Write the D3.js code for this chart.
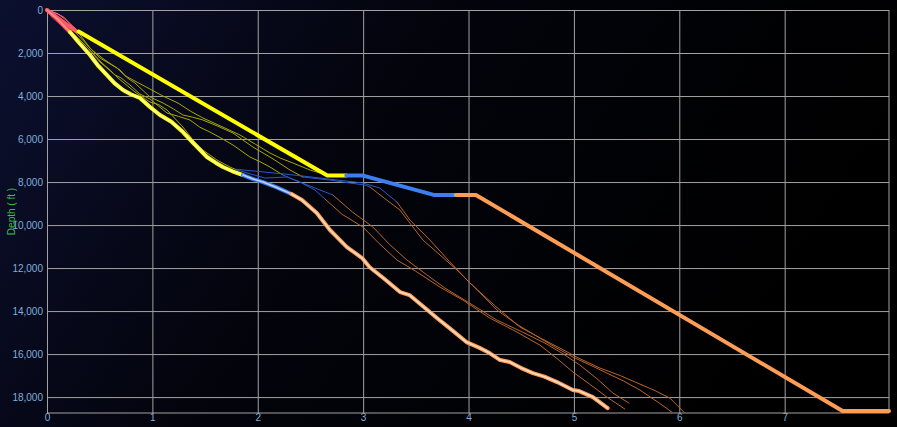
<!DOCTYPE html>
<html><head><meta charset="utf-8">
<script src="https://cdn.jsdelivr.net/npm/d3@7"></script>
<style>html,body{margin:0;padding:0;background:#000;}svg{display:block;}</style>
</head><body>
<svg id="chart" width="897" height="427"></svg>
<script>
// ---------- DATA (x: time units, y: depth ft) ----------
const xTicks = [0,1,2,3,4,5,6,7];
const yTicks = [0,2000,4000,6000,8000,10000,12000,14000,16000,18000];
const sectionColors = ["#ff5a5f","#ffff00","#3d7ff0","#ff9d55"];
const thinColors   = ["#c8323c","#a8a800","#2a58c8","#b8652a"];

// Plan line by section
const planRed    = [[0,0],[0.28,1000]];
const planYellow = [[0.30,1000],[2.66,7700],[2.84,7700]];
const planBlue   = [[2.84,7700],[3.0,7700],[3.67,8600],[3.88,8600]];
const planOrange = [[3.88,8600],[4.07,8600],[7.55,18650],[7.99,18650]];

// Actual (current well) by section
const mainRed    = [[0,0],[0.1,420],[0.218,1023]];
const mainYellow = [[0.218,1023],[0.30,1500],[0.408,2093],[0.48,2560],[0.569,3023],[0.64,3400],[0.721,3721],[0.80,3930],[0.882,4093],[0.93,4300],[0.977,4512],[1.072,4884],[1.18,5200],[1.29,5674],[1.40,6250],[1.518,6837],[1.60,7100],[1.67,7302],[1.76,7500],[1.86,7674]];
const mainBlue   = [[1.86,7674],[1.95,7850],[2.05,8000],[2.18,8250],[2.32,8558]];
const mainOrange = [[2.32,8558],[2.42,8837],[2.56,9442],[2.685,10232],[2.846,11023],[2.99,11535],[3.06,11953],[3.20,12500],[3.35,13116],[3.44,13256],[3.61,13953],[3.72,14400],[3.82,14791],[3.98,15442],[4.10,15700],[4.20,15953],[4.30,16279],[4.39,16372],[4.50,16650],[4.61,16884],[4.72,17050],[4.84,17302],[4.99,17674],[5.05,17720],[5.18,18000],[5.32,18512]];

// Offset wells: surface section
const offRed1 = [[0,0],[0.076,233],[0.142,558],[0.199,744],[0.237,977]];
const offRed2 = [[0,0],[0.104,186],[0.18,465],[0.266,837],[0.294,1023]];
const offRed3 = [[0,0],[0.05,370],[0.12,650],[0.18,930],[0.22,1020]];
const offRed4 = [[0,0],[0.085,140],[0.16,330],[0.22,650],[0.275,980]];
// intermediate section
const offYellow1 = [[0.237,1023],[0.389,1767],[0.503,2419],[0.645,3023],[0.70,3150],[0.787,3488],[0.88,3900],[0.977,4139],[1.139,4791],[1.25,4950],[1.357,5116],[1.45,5450],[1.546,5674],[1.65,5950],[1.765,6279],[1.926,6837],[2.02,7050],[2.116,7302],[2.239,7674]];
const offYellow2 = [[0.237,1023],[0.408,1860],[0.522,2465],[0.60,2800],[0.674,3163],[0.835,3814],[0.977,4279],[1.06,4400],[1.139,4651],[1.29,5442],[1.385,6046],[1.48,6512],[1.613,6977],[1.736,7302],[1.803,7442]];
const offYellow3 = [[0.266,1023],[0.427,1860],[0.55,2326],[0.693,2791],[0.76,3150],[0.835,3395],[0.977,4046],[1.101,4325],[1.20,4600],[1.29,4884],[1.38,4980],[1.48,5116],[1.62,5400],[1.765,5721],[1.954,6372],[2.116,6837],[2.20,7100],[2.306,7442],[2.429,7767]];
const offYellow4 = [[0.294,1023],[0.408,1767],[0.503,2233],[0.664,2698],[0.74,3050],[0.816,3256],[0.977,3674],[1.10,4000],[1.243,4325],[1.36,4700],[1.48,5023],[1.65,5400],[1.831,5814],[1.98,6250],[2.116,6651],[2.22,6900],[2.334,7116],[2.50,7450],[2.657,7674]];
// liner section
const offBlue1 = [[2.239,7674],[2.40,8000],[2.543,8372],[2.638,8790]];
const offBlue2 = [[1.803,7442],[2.068,7814],[2.277,7767],[2.495,8186],[2.713,8604]];
const offBlue3 = [[2.429,7767],[2.685,7907],[2.875,8046],[3.017,8139],[3.065,8232]];
const offBlue4 = [[1.78,7400],[2.30,7650],[2.998,8046],[3.159,8279],[3.321,8930]];
// production section
const offOrange1 = [[2.638,8790],[2.80,9500],[2.998,10093],[3.15,10850],[3.321,11628],[3.50,12150],[3.729,12884],[3.95,13500],[4.203,14326],[4.45,14950],[4.677,15581],[4.85,16250],[4.991,16837],[5.15,17400],[5.313,18000],[5.484,18558]];
const offOrange2 = [[2.713,8604],[2.90,9400],[3.093,10093],[3.25,10900],[3.416,11628],[3.60,12300],[3.776,12930],[4.00,13600],[4.269,14419],[4.50,14950],[4.725,15488],[4.90,16000],[5.057,16512],[5.22,17150],[5.37,17814],[5.522,18279]];
const offOrange3 = [[3.065,8232],[3.20,8750],[3.349,9302],[3.45,9950],[3.567,10698],[3.72,11350],[3.89,12093],[4.08,13000],[4.269,13953],[4.47,14650],[4.677,15256],[4.83,15700],[4.991,16140],[5.15,16500],[5.313,16884],[5.47,17250],[5.626,17670],[5.81,18280],[5.93,18700]];
const offOrange4 = [[3.321,8930],[3.444,9767],[3.634,10698],[3.82,11700],[4.013,12698],[4.25,13750],[4.488,14744],[4.68,15250],[4.867,15721],[5.05,16200],[5.247,16651],[5.44,17000],[5.626,17395],[5.77,17700],[5.911,18047],[6.044,18700]];

// ---------- CHART ----------
const W = 897, H = 427;
const L = 47, R = 889, T = 10, B = 413;
const svg = d3.select("#chart");
const defs = svg.append("defs");
const grad = defs.append("linearGradient").attr("id","bg").attr("x1","0").attr("y1","0").attr("x2","1").attr("y2","0.3");
grad.append("stop").attr("offset","0%").attr("stop-color","#0c1030");
grad.append("stop").attr("offset","45%").attr("stop-color","#03040c");
grad.append("stop").attr("offset","100%").attr("stop-color","#000000");
svg.append("rect").attr("width",W).attr("height",H).attr("fill","url(#bg)");

const x = d3.scaleLinear().domain([0,7.99]).range([L,R]);
const y = d3.scaleLinear().domain([0,18740]).range([T,B]);

// grid + axes
const gy = svg.append("g").attr("transform",`translate(${L},0)`)
  .call(d3.axisLeft(y).tickValues(yTicks).tickSize(-(R-L)).tickPadding(4).tickFormat(d3.format(",")));
const gx = svg.append("g").attr("transform",`translate(0,${B})`)
  .call(d3.axisBottom(x).tickValues(xTicks).tickSize(-(B-T)).tickPadding(1).tickFormat(d3.format("d")));
[gx,gy].forEach(g=>{
  g.select(".domain").remove();
  g.selectAll(".tick line").attr("stroke","#a2a2a2").attr("stroke-width",1);
  g.selectAll(".tick text").attr("fill","#7fb0dc").style("font-family","'Liberation Sans', Arial, sans-serif").style("font-size","10px");
});
svg.append("line").attr("x1",L).attr("x2",R).attr("y1",y(18740)).attr("y2",y(18740)).attr("stroke","#a2a2a2");
svg.append("line").attr("x1",x(7.99)).attr("x2",x(7.99)).attr("y1",T).attr("y2",B).attr("stroke","#a2a2a2");

svg.append("text").attr("transform",`translate(15,${(T+B)/2}) rotate(-90)`)
  .attr("text-anchor","middle").attr("fill","#3fbf3f")
  .style("font-family","'Liberation Sans', Arial, sans-serif").style("font-size","10px")
  .text("Depth ( ft )");

const line = d3.line().x(d=>x(d[0])).y(d=>y(d[1]));
const plot = svg.append("g");

function draw(data, color, width, opacity){
  plot.append("path").datum(data).attr("d",line).attr("fill","none")
    .attr("stroke",color).attr("stroke-width",width).attr("stroke-opacity",opacity||1)
    .attr("stroke-linejoin","round").attr("stroke-linecap","round");
}

[offRed1,offRed2,offRed3,offRed4].forEach((d,i)=>draw(d, i%2? "#ff6f7a":thinColors[0], 1, 0.9));
[offYellow1,offYellow2,offYellow3,offYellow4].forEach(d=>draw(d, thinColors[1], 1));
[offBlue1,offBlue2,offBlue3,offBlue4].forEach(d=>draw(d, thinColors[2], 1));
[offOrange1,offOrange2,offOrange3,offOrange4].forEach(d=>draw(d, thinColors[3], 1));

[planRed,planYellow,planBlue,planOrange].forEach((d,i)=>draw(d, sectionColors[i], 4));

[mainRed,mainYellow,mainBlue,mainOrange].forEach((d,i)=>{
  draw(d, sectionColors[i], 4);
  draw(d, i===0? "#ffb0b0" : "#ffffff", 1.6, 0.65);
});
</script>
</body></html>
